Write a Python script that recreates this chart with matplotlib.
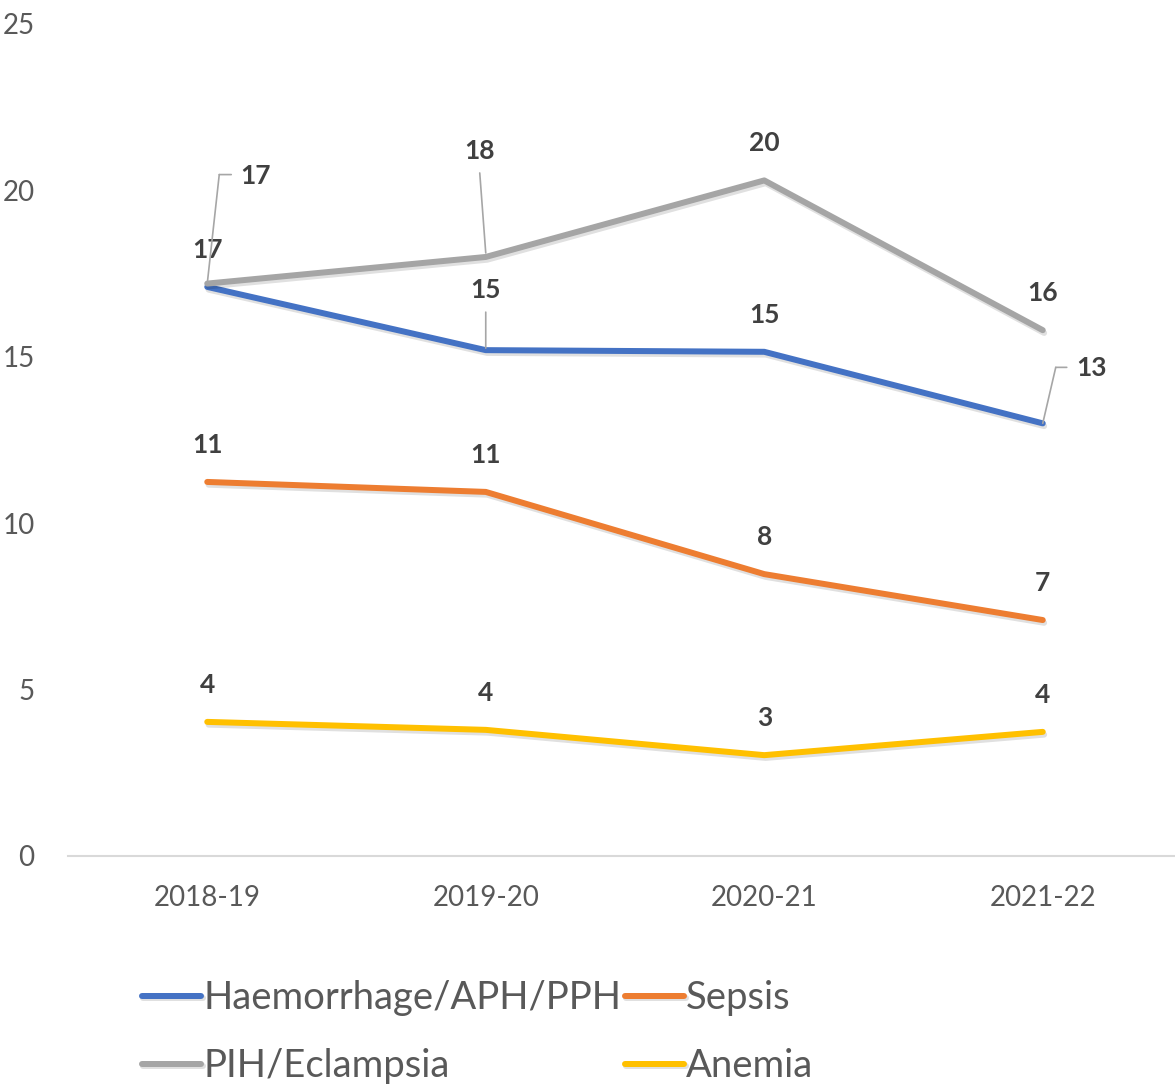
import matplotlib
matplotlib.use("Agg")
import matplotlib.pyplot as plt
import matplotlib.patheffects as pe
from matplotlib.text import OffsetFrom

plt.rcParams['font.family'] = ['Lato', 'DejaVu Sans']

years = ['2018-19', '2019-20', '2020-21', '2021-22']
haemorrhage = [17.1, 15.2, 15.15, 13.0]
sepsis = [11.24, 10.94, 8.47, 7.09]
pih = [17.2, 18.0, 20.3, 15.8]
anemia = [4.03, 3.79, 3.03, 3.73]

series = [
    ('Haemorrhage/APH/PPH', haemorrhage, '#4472C4'),
    ('PIH/Eclampsia', pih, '#A5A5A5'),
    ('Sepsis', sepsis, '#ED7D31'),
    ('Anemia', anemia, '#FFC000'),
]

PX = 0.72  # px -> points at 100 dpi
LABEL_COL = '#404040'
LEADER_COL = '#A6A6A6'

fig = plt.figure(figsize=(11.75, 10.84), dpi=100)
ax = fig.add_axes([68 / 1175, 228 / 1084, 1114 / 1175, 832 / 1084])

x = list(range(len(years)))
handles = []
for name, vals, col in series:
    ln, = ax.plot(x, vals, color=col, lw=6 * PX, solid_capstyle='round',
                  solid_joinstyle='round', label=name,
                  path_effects=[pe.SimpleLineShadow(offset=(1, -2), shadow_color='k', alpha=0.12),
                                pe.Normal()])
    handles.append(ln)

# labels with leader lines: (series, index) -> (text offset px, leader vertices px)
special = {
    ('PIH/Eclampsia', 0): ((48, 108), [(0, 0), (12, 109), (24, 109)]),
    ('PIH/Eclampsia', 1): ((-6, 106), [(0, 4), (-6, 84)]),
    ('Haemorrhage/APH/PPH', 1): ((0, 60), [(0, 2), (0, 38)]),
    ('Haemorrhage/APH/PPH', 3): ((49, 55), [(0, 0), (13, 56), (24, 56)]),
}

for name, vals, col in series:
    for i, v in enumerate(vals):
        off, leader = special.get((name, i), ((0, 37), None))
        ax.annotate(f'{v:.0f}', xy=(i, v), xytext=(off[0] * PX, off[1] * PX),
                    textcoords='offset points', ha='center', va='center',
                    fontsize=19, fontweight='bold', color=LABEL_COL)
        if leader:
            ref = OffsetFrom(ax.transData, (i, v), unit='points')
            for a, b in zip(leader[:-1], leader[1:]):
                ax.annotate('', xy=(a[0] * PX, a[1] * PX), xycoords=ref,
                            xytext=(b[0] * PX, b[1] * PX), textcoords=ref,
                            arrowprops=dict(arrowstyle='-', color=LEADER_COL, lw=1.2,
                                            shrinkA=0, shrinkB=0))

ax.set_xlim(-0.5, 3.5)
ax.set_ylim(0, 25)
ax.set_xticks(x)
ax.set_xticklabels(years)
ax.set_yticks([0, 5, 10, 15, 20, 25])
ax.tick_params(axis='both', length=0, labelsize=20, labelcolor='#595959')
ax.tick_params(axis='y', pad=24)
ax.tick_params(axis='x', pad=21)
for s in ['top', 'right', 'left']:
    ax.spines[s].set_visible(False)
ax.spines['bottom'].set_color('#D9D9D9')
ax.spines['bottom'].set_linewidth(1.5)

leg = fig.legend(handles=handles, loc='upper left', bbox_to_anchor=(142 / 1175, 1 - 980 / 1084),
                 ncol=2, frameon=False, fontsize=27.5, handlelength=1.55, handletextpad=0.05,
                 columnspacing=0.1, labelspacing=0.84, borderpad=0, borderaxespad=0)
for t in leg.get_texts():
    t.set_color('#595959')

fig.savefig('out.png', dpi=100)
